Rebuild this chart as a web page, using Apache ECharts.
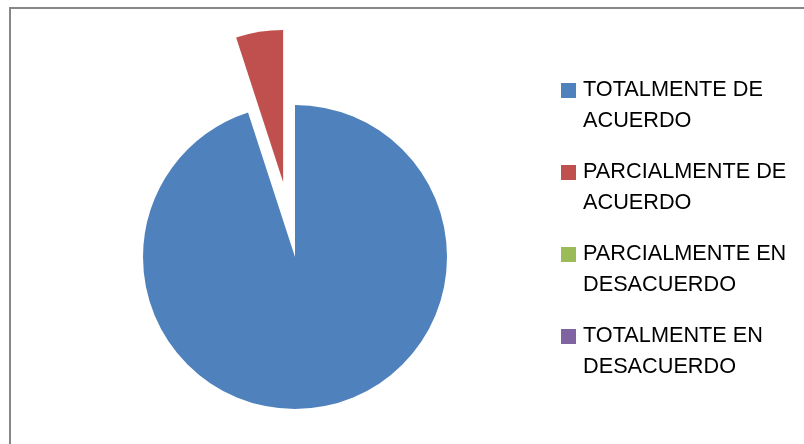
<!DOCTYPE html>
<html>
<head>
<meta charset="utf-8">
<script src="https://cdn.jsdelivr.net/npm/echarts@6/dist/echarts.min.js"></script>
<style>
html,body{margin:0;padding:0;background:#fff;}
#chart{width:804px;height:444px;}
</style>
</head>
<body>
<div id="chart"></div>
<script>
var categories = ['TOTALMENTE DE ACUERDO', 'PARCIALMENTE DE ACUERDO', 'PARCIALMENTE EN DESACUERDO', 'TOTALMENTE EN DESACUERDO'];
var legendLines = [['TOTALMENTE DE', 'ACUERDO'], ['PARCIALMENTE DE', 'ACUERDO'], ['PARCIALMENTE EN', 'DESACUERDO'], ['TOTALMENTE EN', 'DESACUERDO']];
var values = [95, 5, 0, 0];
var colors = ['#4F81BD', '#C0504D', '#9BBB59', '#8064A2'];

var chart = echarts.init(document.getElementById('chart'), null, {renderer: 'canvas'});
var data = categories.map(function (c, i) {
  return {name: c, value: values[i], selected: i === 1, itemStyle: {color: colors[i]}};
});
chart.setOption({
  animation: false,
  backgroundColor: '#ffffff',
  graphic: [{
    type: 'rect', silent: true, z: -1,
    shape: {x: 10, y: 8, width: 1000, height: 1000},
    style: {fill: 'none', stroke: '#878787', lineWidth: 2}
  }],
  legend: {
    orient: 'vertical',
    left: 561,
    top: 44,
    padding: 0,
    itemWidth: 15,
    itemHeight: 15,
    itemGap: -11,
    icon: 'rect',
    selectedMode: false,
    data: categories,
    formatter: function (name) {
      var i = categories.indexOf(name);
      return ' \n' + legendLines[i].join('\n');
    },
    textStyle: {
      fontFamily: 'Liberation Sans',
      fontSize: 21.7,
      lineHeight: 31,
      color: '#000',
      padding: [0, 0, 0, 2]
    }
  },
  series: [{
    type: 'pie',
    center: [295, 257],
    radius: 152,
    startAngle: 90,
    clockwise: true,
    selectedMode: 'single',
    selectedOffset: 76,
    label: {show: false},
    labelLine: {show: false},
    emphasis: {disabled: true},
    itemStyle: {borderWidth: 0},
    data: data
  }]
});
</script>
</body>
</html>
